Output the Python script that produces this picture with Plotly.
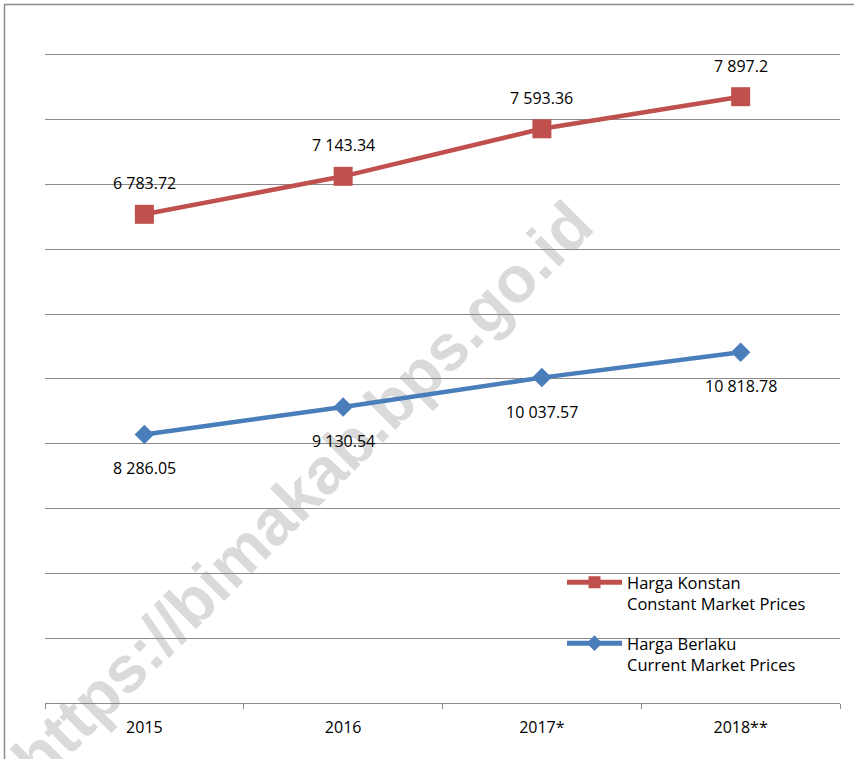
import plotly.graph_objects as go

years = ["2015", "2016", "2017*", "2018**"]
konstan = [6783.72, 7143.34, 7593.36, 7897.2]
berlaku = [8286.05, 9130.54, 10037.57, 10818.78]
konstan_labels = ["6 783.72", "7 143.34", "7 593.36", "7 897.2"]
berlaku_labels = ["8 286.05", "9 130.54", "10 037.57", "10 818.78"]

RED = "#C0504D"
BLUE = "#4A7EBB"
GRID = "#8a8a8a"
FONT = "Open Sans"

fig = go.Figure()
fig.add_trace(go.Scatter(
    x=years, y=konstan, yaxis="y2", mode="lines+markers",
    name="Harga Konstan<br>Constant Market Prices",
    legendgroup="a",
    line=dict(color=RED, width=4.5),
    marker=dict(symbol="square", size=19, color=RED),
))
fig.add_trace(go.Scatter(
    x=years, y=berlaku, yaxis="y", mode="lines+markers",
    name="Harga Berlaku<br>Current Market Prices",
    legendgroup="b",
    line=dict(color=BLUE, width=4.5),
    marker=dict(symbol="diamond", size=15, color=BLUE),
))

annotations = []
for i, (v, t) in enumerate(zip(konstan, konstan_labels)):
    annotations.append(dict(x=i, y=v, xref="x", yref="y2", text=t, showarrow=False,
                            yshift=31, font=dict(family=FONT, size=16, color="black")))
for i, (v, t) in enumerate(zip(berlaku, berlaku_labels)):
    annotations.append(dict(x=i, y=v, xref="x", yref="y", text=t, showarrow=False,
                            yshift=-34, font=dict(family=FONT, size=16, color="black")))

W, H = 854, 759
L, R, T, B = 45, 14, 53, 56
pw, ph = W - L - R, H - T - B

def px(xp):
    return (xp - L) / pw

def py(yp):
    return (H - B - yp) / ph

cx, cy = 298, 487
shapes = [
    # watermark
    dict(type="rect", xref="paper", yref="paper", layer="below",
         x0=px(cx - 150), x1=px(cx + 150), y0=py(cy + 150), y1=py(cy - 150),
         line=dict(width=0), fillcolor="rgba(0,0,0,0)",
         label=dict(text="https://bimakab.bps.go.id", textangle=-45,
                    textposition="middle center",
                    font=dict(family="Liberation Sans", size=65, color="#dadada", weight="bold"))),
    # outer frame
    dict(type="rect", xref="paper", yref="paper", layer="above",
         x0=px(4.5), x1=px(870), y0=py(780), y1=py(4.5),
         line=dict(color="#8c8c8c", width=1.5), fillcolor="rgba(0,0,0,0)"),
]

fig.update_layout(
    width=W, height=H,
    margin=dict(l=L, r=R, t=T, b=B),
    paper_bgcolor="white",
    plot_bgcolor="rgba(0,0,0,0)",
    font=dict(family=FONT, size=16, color="black"),
    showlegend=True,
    legend=dict(x=px(562), y=py(565), xanchor="left", yanchor="top",
                bgcolor="rgba(0,0,0,0)", valign="top", itemwidth=55,
                itemsizing="constant",
                traceorder="grouped", tracegroupgap=15,
                font=dict(family=FONT, size=16.5, color="black")),
    xaxis=dict(type="category", range=[-0.5, 3.5], showgrid=False,
               showline=True, linecolor=GRID, linewidth=1,
               ticks="outside", tickson="boundaries", ticklen=5, tickcolor=GRID,
               ticklabelstandoff=10,
               tickfont=dict(family=FONT, size=16, color="black")),
    yaxis=dict(range=[0, 20052], dtick=2000, showgrid=True, gridcolor=GRID, gridwidth=1,
               showticklabels=False, zeroline=False, showline=False, ticks=""),
    yaxis2=dict(range=[2157.2, 8310.8], overlaying="y", side="right", showgrid=False,
                showticklabels=False, zeroline=False, showline=False, ticks=""),
    annotations=annotations,
    shapes=shapes,
)

fig.write_html("out.html", config={"displayModeBar": False},
               post_script="document.body.style.margin='0';")
